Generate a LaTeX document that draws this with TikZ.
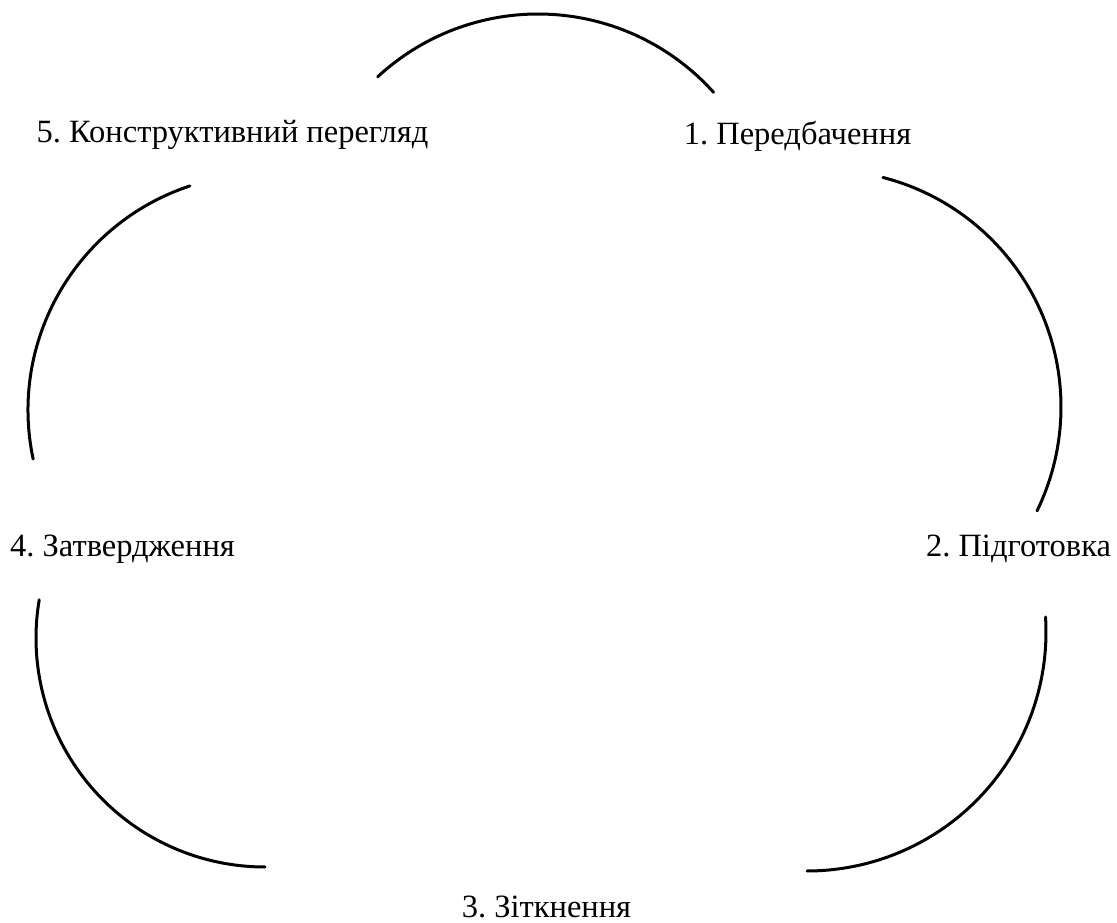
\documentclass[tikz,border=0pt]{standalone}
\usepackage{fontspec}
\setmainfont{Liberation Serif}
\newfontfamily\lblfont{Liberation Serif}
\frenchspacing
\usetikzlibrary{calc}
\begin{document}
\begin{tikzpicture}[x=1pt,y=1pt,
  lbl/.style={anchor=base,inner sep=0pt,font=\lblfont\fontsize{32.5}{38}\selectfont},
  cyc/.style={line width=3pt,line cap=round}]
\useasboundingbox (0,0) rectangle (1117,922);
% labels (x = centre of text, y = baseline)
\node[lbl] (n1) at (797.5,777) {1. Передбачення};
\node[lbl] (n2) at (1018.5,365) {2. Підготовка};
\node[lbl] (n3) at (546.5,5) {3. Зіткнення};
\node[lbl] (n4) at (122.5,365) {4. Затвердження};
\node[lbl] (n5) at (232.5,779) {5. Конструктивний перегляд};
% arc ends
\coordinate (a5) at ($(538,672)+(132.8:236)$);
\coordinate (b1) at ($(824,515)+(75.6:237)$);
\coordinate (c2) at ($(807,290)+(3.6:239)$);
\coordinate (d4) at ($(265,284)+(170.4:229)$);
\coordinate (e5) at ($(264,512)+(192:236)$);
% arcs
\draw[cyc] (a5) arc[start angle=132.8,end angle=41.9,radius=236];
\draw[cyc] (b1) arc[start angle=75.6,end angle=-26,radius=237];
\draw[cyc] (c2) arc[start angle=3.6,end angle=-90,radius=239];
\draw[cyc] (d4) arc[start angle=170.4,end angle=270,radius=229];
\draw[cyc] (e5) arc[start angle=192,end angle=108.3,radius=236];
\end{tikzpicture}
\end{document}
